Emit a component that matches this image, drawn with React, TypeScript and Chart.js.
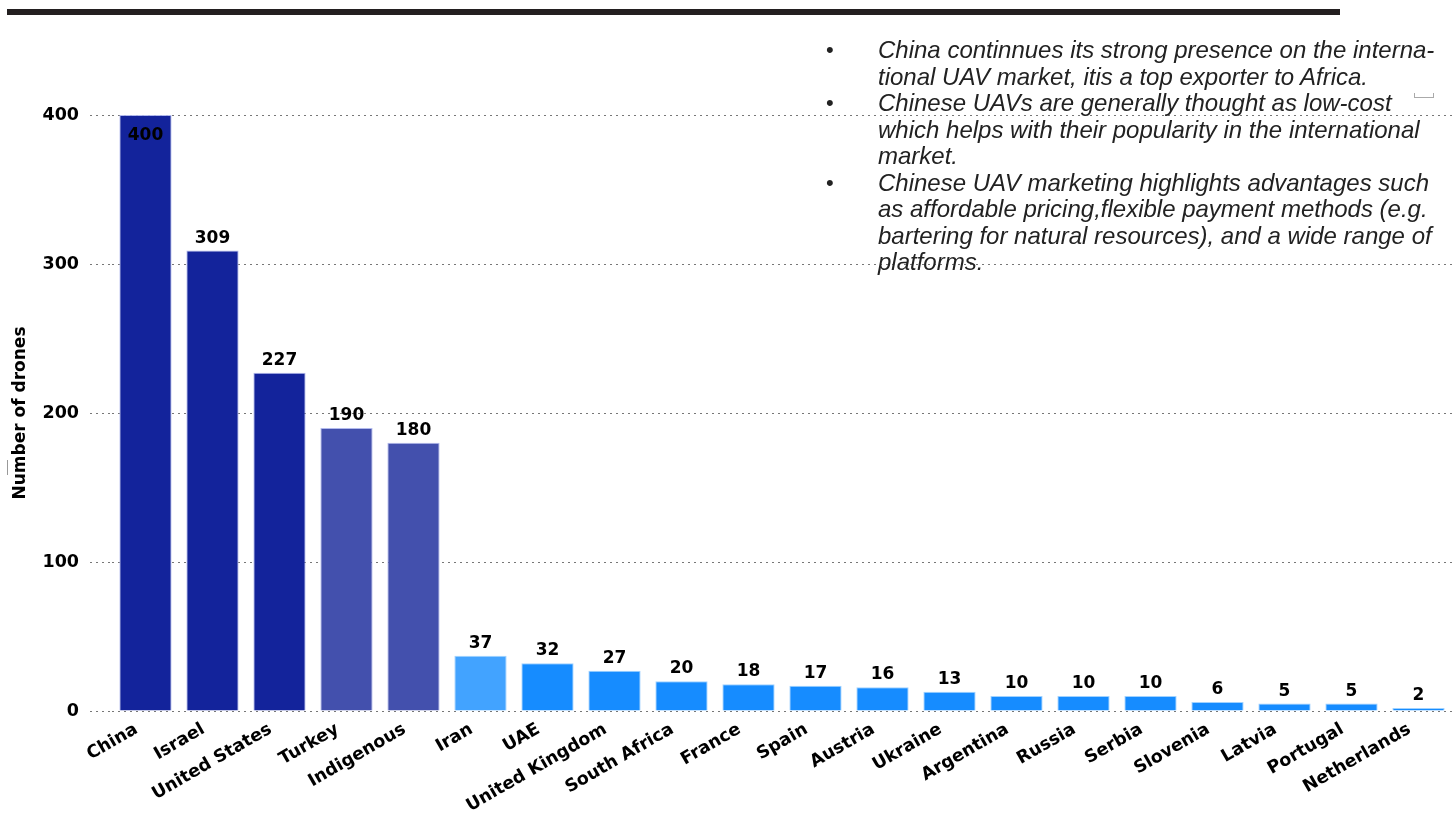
import React, { useEffect, useRef } from "react";
import { Chart, registerables } from "chart.js";

Chart.register(...registerables);

const categories = [
  "China", "Israel", "United States", "Turkey", "Indigenous", "Iran", "UAE",
  "United Kingdom", "South Africa", "France", "Spain", "Austria", "Ukraine",
  "Argentina", "Russia", "Serbia", "Slovenia", "Latvia", "Portugal", "Netherlands",
];
const droneCounts = [400, 309, 227, 190, 180, 37, 32, 27, 20, 18, 17, 16, 13, 10, 10, 10, 6, 5, 5, 2];
const yTickValues = [0, 100, 200, 300, 400];
const yAxisTitle = "Number of drones";

const noteLines: { text: string; bullet: boolean }[] = [
  { text: "China continnues its strong presence on the interna-", bullet: true },
  { text: "tional UAV market, itis a top exporter to Africa.", bullet: false },
  { text: "Chinese UAVs are generally thought as low-cost", bullet: true },
  { text: "which helps with their popularity in the international", bullet: false },
  { text: "market.", bullet: false },
  { text: "Chinese UAV marketing highlights advantages such", bullet: true },
  { text: "as affordable pricing,flexible payment methods (e.g.", bullet: false },
  { text: "bartering for natural resources), and a wide range of", bullet: false },
  { text: "platforms.", bullet: false },
];

const DARK = "#13239b";
const MID = "#4350ad";
const LIGHT = "#42a3ff";
const BRIGHT = "#168cff";
const barColors = categories.map((_, i) => (i < 3 ? DARK : i < 5 ? MID : i === 5 ? LIGHT : BRIGHT));
const barBorders = categories.map((_, i) => (i < 5 ? "rgba(170,178,235,0.9)" : "rgba(150,205,255,0.9)"));

const BOLD_FONT = "DejaVu Sans";

const valueLabelPlugin = {
  id: "valueLabels",
  afterDatasetsDraw(chart: any) {
    const ctx = chart.ctx;
    const meta = chart.getDatasetMeta(0);
    const data = chart.data.datasets[0].data as number[];
    const maxVal = Math.max(...data);
    ctx.save();
    ctx.font = `bold 17px "${BOLD_FONT}"`;
    ctx.fillStyle = "#000";
    ctx.textAlign = "center";
    ctx.textBaseline = "alphabetic";
    meta.data.forEach((bar: any, i: number) => {
      const v = data[i];
      const y = v === maxVal ? bar.y + 25 : bar.y - 8;
      ctx.fillText(String(v), bar.x, y);
    });
    ctx.restore();
  },
};

export default function App() {
  const canvasRef = useRef<HTMLCanvasElement | null>(null);

  useEffect(() => {
    if (!canvasRef.current) return;
    const chart = new Chart(canvasRef.current, {
      type: "bar",
      data: {
        labels: categories,
        datasets: [
          {
            data: droneCounts,
            backgroundColor: barColors,
            borderColor: barBorders,
            borderWidth: 1,
            barPercentage: 0.78,
            categoryPercentage: 1,
          },
        ],
      },
      options: {
        responsive: false,
        animation: false,
        layout: { padding: { top: 115, right: 4, left: 0, bottom: 0 } },
        plugins: {
          legend: { display: false },
          tooltip: { enabled: false },
        },
        scales: {
          x: {
            grid: { display: false, drawTicks: false },
            border: { display: false },
            ticks: {
              autoSkip: false,
              minRotation: 30,
              maxRotation: 30,
              padding: 8,
              labelOffset: -9,
              color: "#000",
              font: { family: BOLD_FONT, weight: "bold", size: 17.5 },
            },
            afterFit: (axis: any) => {
              axis.height = 102;
            },
          },
          y: {
            min: 0,
            max: 400,
            afterBuildTicks: (axis: any) => {
              axis.ticks = yTickValues.map((v) => ({ value: v }));
            },
            grid: {
              color: "#777",
              lineWidth: 1,
              tickLength: 22,
              tickColor: "#777",
              tickBorderDash: [2, 4],
            },
            border: { display: false, dash: [2, 4] },
            ticks: {
              padding: 11,
              color: "#000",
              font: { family: BOLD_FONT, weight: "bold", size: 17.5 },
            },
            title: {
              display: true,
              text: yAxisTitle,
              color: "#000",
              padding: { top: 10, bottom: 0 },
              font: { family: BOLD_FONT, weight: "bold", size: 17 },
            },
            afterFit: (axis: any) => {
              axis.width = 112;
            },
          },
        },
      } as any,
      plugins: [valueLabelPlugin],
    });
    (chart.options.scales as any).y.grid.borderDash = [2, 4];
    chart.update();
    return () => chart.destroy();
  }, []);

  return (
    <div style={{ position: "absolute", left: 0, top: 0, width: 1456, height: 813, background: "#fff", overflow: "hidden" }}>
      <canvas ref={canvasRef} width={1456} height={813} style={{ position: "absolute", left: 0, top: 0 }} />
      <div style={{ position: "absolute", left: 7, top: 9, width: 1333, height: 6, background: "#231f20" }} />
      <div style={{ position: "absolute", left: 7, top: 460, width: 1, height: 15, background: "#999" }} />
      <div
        style={{
          position: "absolute",
          left: 1414,
          top: 93,
          width: 18,
          height: 4,
          borderLeft: "1px solid #aaa",
          borderRight: "1px solid #aaa",
          borderBottom: "1px solid #aaa",
        }}
      />
      <div
        style={{
          position: "absolute",
          left: 826,
          top: 37,
          fontFamily: '"Liberation Sans", Arial, sans-serif',
          fontStyle: "italic",
          fontSize: 24,
          lineHeight: "26.5px",
          color: "#222",
          whiteSpace: "nowrap",
        }}
      >
        {noteLines.map((l, i) => (
          <div key={i} style={{ position: "relative", paddingLeft: 52 }}>
            {l.bullet ? (
              <span style={{ position: "absolute", left: 0, fontStyle: "normal", fontSize: 22 }}>•</span>
            ) : null}
            {l.text}
          </div>
        ))}
      </div>
    </div>
  );
}
